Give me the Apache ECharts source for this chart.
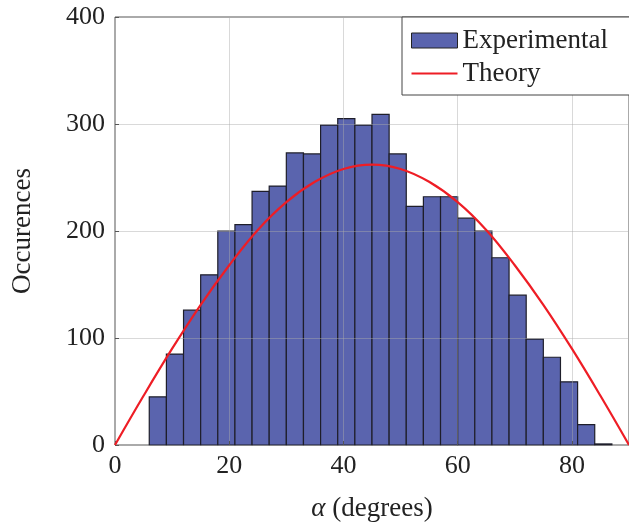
<!DOCTYPE html>
<html>
<head>
<meta charset="utf-8">
<script src="https://cdn.jsdelivr.net/npm/echarts@6/dist/echarts.min.js"></script>
<style>
html,body{margin:0;padding:0;background:#fff;}
#chart{width:629px;height:527px;}
</style>
</head>
<body>
<div id="chart"></div>
<script>
// Histogram bins (left edge, degrees) and counts
var binStarts = [6,9,12,15,18,21,24,27,30,33,36,39,42,45,48,51,54,57,60,63,66,69,72,75,78,81,84];
var binWidth = 3;
var experimental = [45,85,126,159,200,206,237,242,273,272,299,305,299,309,272,223,232,232,212,200,175,140,99,82,59,19,1];
// Theory curve
var theoryAngles = [0,5,10,15,20,25,30,35,40,45,50,55,60,65,70,75,80,85,90];
var theoryValues = [0,46,90,131,168,201,227,246,258,262,258,246,227,201,168,131,90,46,0];
var xTicks = [0,20,40,60,80];
var yTicks = [0,100,200,300,400];

var FONT = 'Liberation Serif';
var barData = binStarts.map(function(s,i){ return [s, s+binWidth, experimental[i]]; });
var lineData = theoryAngles.map(function(a,i){ return [a, theoryValues[i]]; });

var chart = echarts.init(document.getElementById('chart'), null, {renderer:'canvas'});
chart.setOption({
  animation:false,
  backgroundColor:'#ffffff',
  grid:{left:115, top:17, right:-4, bottom:80, show:true, borderColor:'#555555', borderWidth:1, backgroundColor:'transparent'},
  legend:{
    left:402, top:17, orient:'vertical',
    padding:[10,40,8,9], itemGap:6,
    itemWidth:46, itemHeight:15,
    backgroundColor:'#ffffff', borderColor:'#444444', borderWidth:1,
    textStyle:{fontFamily:FONT, fontSize:27, color:'#222', lineHeight:27},
    data:[
      {name:'Experimental', icon:'rect', itemStyle:{color:'#5a64ae', borderColor:'#222', borderWidth:1}},
      {name:'Theory', icon:'path://M0,0 H46 V2 H0 Z', itemStyle:{color:'#ee1d25', borderWidth:0}}
    ]
  },
  xAxis:{
    type:'value', min:xTicks[0], max:90, interval:20, z:3,
    name:'{i|α} (degrees)', nameLocation:'middle', nameGap:50,
    nameTextStyle:{fontFamily:FONT, fontSize:27, color:'#222',
      rich:{i:{fontFamily:FONT, fontSize:27, fontStyle:'italic', color:'#222'}}},
    axisLine:{show:false},
    axisTick:{show:true, inside:true, length:4, lineStyle:{color:'#555'}},
    axisLabel:{fontFamily:FONT, fontSize:26, color:'#222', margin:8, showMaxLabel:false},
    splitLine:{show:true, lineStyle:{color:'rgba(170,170,170,0.45)', width:1}}
  },
  yAxis:{
    type:'value', min:yTicks[0], max:yTicks[yTicks.length-1], interval:100, z:3,
    name:'Occurences', nameLocation:'middle', nameGap:79,
    nameTextStyle:{fontFamily:FONT, fontSize:27, color:'#222'},
    axisLine:{show:false},
    axisTick:{show:true, inside:true, length:4, lineStyle:{color:'#555'}},
    axisLabel:{fontFamily:FONT, fontSize:26, color:'#222', margin:10},
    splitLine:{show:true, lineStyle:{color:'rgba(170,170,170,0.45)', width:1}}
  },
  series:[
    {
      name:'Experimental', type:'custom', z:2,
      itemStyle:{color:'#5a64ae'},
      encode:{x:[0,1], y:2},
      data:barData,
      renderItem:function(params, api){
        var p0 = api.coord([api.value(0), api.value(2)]);
        var p1 = api.coord([api.value(1), 0]);
        return {
          type:'rect',
          shape:{x:p0[0], y:p0[1], width:p1[0]-p0[0], height:p1[1]-p0[1]},
          style:{fill:'#5a64ae', stroke:'#1e1e2a', lineWidth:1.2}
        };
      }
    },
    {
      name:'Theory', type:'line', z:4, smooth:0.4,
      symbol:'none', showSymbol:false,
      lineStyle:{color:'#ee1d25', width:2.2},
      itemStyle:{color:'#ee1d25'},
      data:lineData
    }
  ]
});
</script>
</body>
</html>
